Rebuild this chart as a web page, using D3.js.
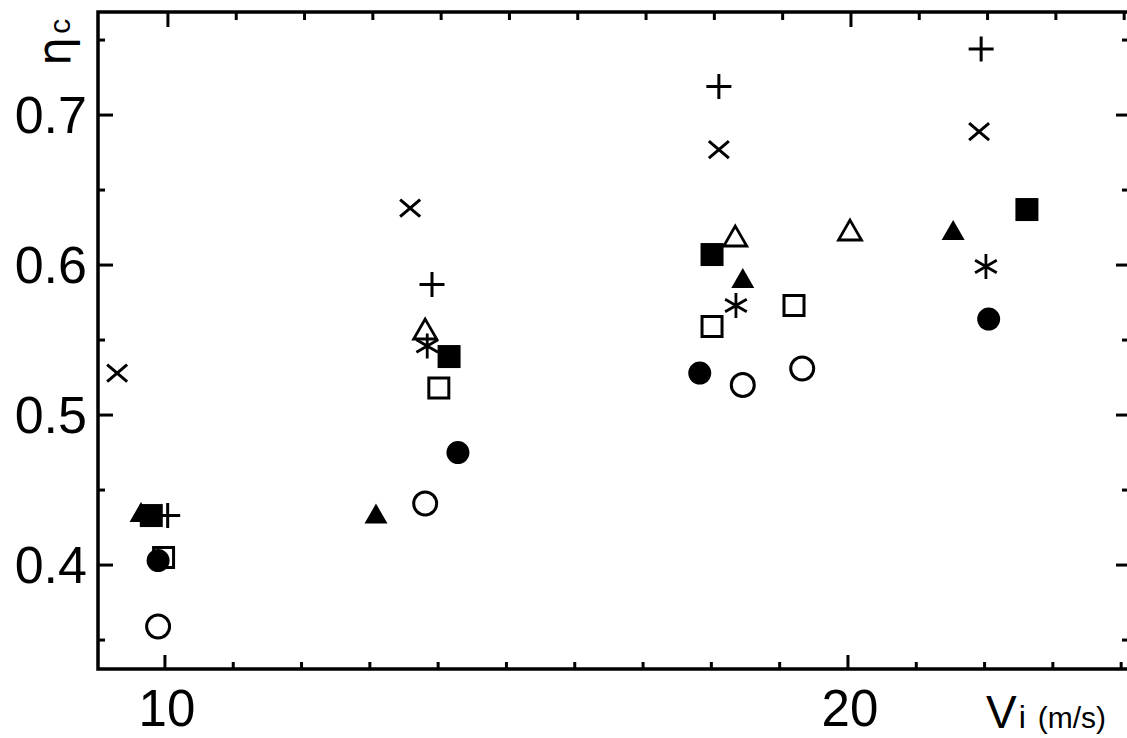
<!DOCTYPE html>
<html lang="en">
<head>
<meta charset="utf-8">
<script src="https://cdn.jsdelivr.net/npm/d3@7"></script>
<style>
  body { margin: 0; background: #fff; }
  svg text { font-family: "Liberation Sans", Arial, sans-serif; fill: #000; }
</style>
</head>
<body>
<script>
// data: velocity Vi (m/s) and efficiency eta_c, one pair of arrays per marker
var openCircleV   = [9.90, 13.81, 18.46, 19.33];
var openCircleEta = [0.359, 0.441, 0.520, 0.531];
var dotV   = [9.90, 14.29, 17.83, 22.06];
var dotEta = [0.403, 0.475, 0.528, 0.564];
var openSquareV   = [9.98, 14.01, 18.01, 19.21];
var openSquareEta = [0.405, 0.518, 0.559, 0.573];
var squareV   = [9.80, 14.16, 18.01, 22.62];
var squareEta = [0.433, 0.539, 0.607, 0.637];
var openTriV   = [13.81, 18.35, 20.03];
var openTriEta = [0.556, 0.618, 0.622];
var triV   = [9.65, 13.09, 18.46, 21.54];
var triEta = [0.434, 0.433, 0.590, 0.622];
var plusV   = [10.04, 13.91, 18.11, 21.95];
var plusEta = [0.433, 0.587, 0.719, 0.744];
var crossV   = [9.30, 13.59, 18.11, 21.92];
var crossEta = [0.528, 0.638, 0.677, 0.689];
var starV   = [13.84, 18.36, 22.02];
var starEta = [0.546, 0.573, 0.599];

var xTicks = [10, 11, 12, 13, 14, 15, 16, 17, 18, 19, 20, 21, 22, 23, 24];
var xLabels = [10, 20];
var yTicks = [0.35, 0.40, 0.45, 0.50, 0.55, 0.60, 0.65, 0.70, 0.75];
var yLabels = [0.4, 0.5, 0.6, 0.7];

var w = 1127, h = 738;
// plot frame (note: "top" is taken by window.top, so use other names)
var frameL = 98, frameR = 1128, frameT = 12, frameB = 669;

var svg = d3.select("body").append("svg")
  .attr("width", w).attr("height", h);

var x = d3.scaleLinear().domain([9.02, 24.1]).range([frameL, frameR]);
var y = d3.scaleLinear().domain([0.3307, 0.7687]).range([frameB, frameT]);

// frame: left, top, bottom (right side is cut off by the scan)
svg.append("path")
  .attr("d", "M" + (frameR + 2) + "," + frameT + "H" + frameL + "V" + frameB + "H" + (frameR + 2))
  .attr("fill", "none").attr("stroke", "#000").attr("stroke-width", 3.5);

function isMajorX(d) { return xLabels.indexOf(d) >= 0; }
function isMajorY(d) { return yLabels.some(function(v){ return Math.abs(v - d) < 1e-6; }); }

var ticks = svg.append("g").attr("stroke", "#000").attr("stroke-width", 3);
xTicks.forEach(function(d) {
  if (x(d) > frameR) return;
  var big = isMajorX(d);
  ticks.append("line").attr("x1", x(d)).attr("x2", x(d))
    .attr("y1", frameB).attr("y2", frameB - (big ? 14 : 7));
  ticks.append("line").attr("x1", x(d) + 3).attr("x2", x(d) + 3)
    .attr("y1", frameT).attr("y2", frameT + (big ? 15 : 8));
});
yTicks.forEach(function(d) {
  if (y(d) < frameT) return;
  var big = isMajorY(d);
  ticks.append("line").attr("x1", frameL).attr("x2", frameL + (big ? 15 : 7))
    .attr("y1", y(d)).attr("y2", y(d));
  ticks.append("line").attr("x1", frameR + 2).attr("x2", frameR - (big ? 12 : 6))
    .attr("y1", y(d)).attr("y2", y(d));
});

// tick labels
svg.selectAll(".xlab").data(xLabels).enter().append("text")
  .attr("class", "xlab")
  .attr("x", function(d){ return x(d) + 2; })
  .attr("y", 726)
  .attr("text-anchor", "middle")
  .attr("font-size", 51)
  .text(function(d){ return d; });

svg.selectAll(".ylab").data(yLabels).enter().append("text")
  .attr("class", "ylab")
  .attr("x", 87)
  .attr("y", function(d){ return y(d) + 18; })
  .attr("text-anchor", "end")
  .attr("font-size", 52)
  .text(function(d){ return d.toFixed(1); });

// axis titles
var xt = svg.append("text").attr("x", 986).attr("y", 728);
xt.append("tspan").attr("font-size", 46).text("V");
xt.append("tspan").attr("font-size", 32).attr("dx", 2).text("i");
xt.append("tspan").attr("font-size", 30).attr("dx", 12).text("(m/s)");

var yt = svg.append("text")
  .attr("transform", "translate(70,66) rotate(-90)");
yt.append("tspan").attr("font-size", 46).attr("font-family", "DejaVu Sans").text("η");
yt.append("tspan").attr("font-size", 30).attr("dx", 3).text("c");

// marker shapes
function circlePath(r) { return d3.symbol().type(d3.symbolCircle).size(Math.PI * r * r)(); }
function squarePath(s) { return "M" + (-s/2) + "," + (-s/2) + "h" + s + "v" + s + "h" + (-s) + "Z"; }
function triPath(s) {
  var hh = s * Math.sqrt(3) / 2;
  return "M0," + (-hh * 0.6) + "L" + (s/2) + "," + (hh * 0.4) + "L" + (-s/2) + "," + (hh * 0.4) + "Z";
}
function plusPath(s) { return "M" + (-s/2) + ",0H" + (s/2) + "M0," + (-s/2) + "V" + (s/2); }
function crossPath(a, b) { return "M" + (-a) + "," + (-b) + "L" + a + "," + b + "M" + (-a) + "," + b + "L" + a + "," + (-b); }
function starPath(r) {
  var p = "M0," + (-r) + "V" + r;
  [30, -30].forEach(function(ang) {
    var dx = r * Math.cos(ang * Math.PI / 180), dy = r * Math.sin(ang * Math.PI / 180);
    p += "M" + (-dx) + "," + (-dy) + "L" + dx + "," + dy;
  });
  return p;
}

function plot(vs, etas, path, fill, sw) {
  var pts = vs.map(function(v, i){ return [v, etas[i]]; });
  svg.append("g").selectAll("path").data(pts).enter().append("path")
    .attr("transform", function(d){ return "translate(" + x(d[0]) + "," + y(d[1]) + ")"; })
    .attr("d", path)
    .attr("fill", fill ? "#000" : "none")
    .attr("stroke", "#000")
    .attr("stroke-width", sw)
    .attr("stroke-linejoin", "miter");
}

plot(openCircleV, openCircleEta, circlePath(11.5), false, 3);
plot(dotV, dotEta, circlePath(11.5), true, 0);
plot(openSquareV, openSquareEta, squarePath(20), false, 3);
plot(triV, triEta, triPath(23), true, 0);
plot(squareV, squareEta, squarePath(23), true, 0);
plot(openTriV, openTriEta, triPath(23), false, 2.8);
plot(plusV, plusEta, plusPath(25), false, 3);
plot(crossV, crossEta, crossPath(10, 8.5), false, 3);
plot(starV, starEta, starPath(12.5), false, 2.8);
</script>
</body>
</html>
